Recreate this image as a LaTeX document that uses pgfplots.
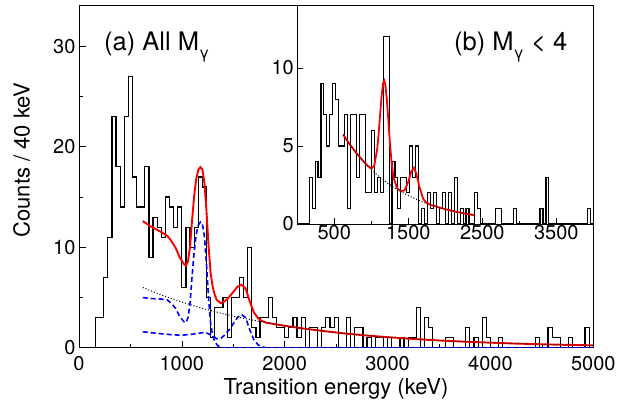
\documentclass[border=0pt]{standalone}
\usepackage{fontspec}
\setmainfont{TeX Gyre Heros}
\usepackage{pgfplots}
\pgfplotsset{compat=1.18}
\newcommand{\sg}{\raisebox{-8.5bp}{\fontsize{16bp}{16bp}\selectfont γ}}
\begin{document}
\begin{tikzpicture}[x=1bp,y=1bp]
\pgfplotsset{
  myaxis/.style={
    scale only axis,
    tick align=inside, xtick pos=bottom, ytick pos=left,
    tick style={black, line width=0.7bp},
    axis line style={line width=1bp},
    /pgf/number format/assume math mode=true,
    /pgf/number format/1000 sep={},
    tick label style={font=\fontsize{20bp}{20bp}\selectfont},
    clip=true,
  }
}
% ---------------- main panel ----------------
\begin{axis}[myaxis,
  at={(79bp,60.2bp)}, anchor=south west,
  width=514.3bp, height=341.8bp,
  xmin=0, xmax=5000, ymin=0, ymax=34,
  xtick={0,1000,2000,3000,4000,5000}, minor xtick={500,1500,2500,3500,4500},
  ytick={0,10,20,30}, minor ytick={5,15,25},
  major tick length=7bp, minor tick length=3.5bp,
  xticklabel style={yshift=-5bp},
]
\addplot[const plot, black, line width=1.2bp] coordinates {
(0,0) (160,3) (200,3) (240,7) (280,11) (320,23) (360,18) (400,14) (440,23) (480,27)
(520,17) (560,14) (600,14) (640,18) (680,9) (720,13) (760,12) (800,11) (840,15) (880,14)
(920,12) (960,14) (1000,6) (1040,12) (1080,10) (1120,12) (1160,17) (1200,16) (1240,5) (1280,1)
(1320,4) (1360,4) (1400,5) (1440,1) (1480,5) (1520,5) (1560,7) (1600,5) (1640,10) (1680,2)
(1720,1) (1760,3) (1800,3) (1840,5) (1880,3) (1920,2) (1960,2) (2000,1) (2040,2) (2080,3)
(2120,1) (2160,3) (2200,0) (2240,2) (2280,2) (2320,0) (2360,2) (2400,3) (2440,2) (2480,3)
(2520,0) (2560,0) (2600,3) (2640,0) (2680,2) (2720,2) (2760,0) (2800,1) (2840,0) (2880,1)
(2920,1) (2960,0) (3000,1) (3040,0) (3080,0) (3120,1) (3160,0) (3200,1) (3240,1) (3280,4)
(3320,0) (3360,3) (3400,2) (3440,0) (3480,0) (3520,0) (3560,1) (3600,1) (3640,0) (3680,0)
(3720,0) (3760,2) (3800,0) (3840,1) (3880,0) (3920,3) (3960,1) (4000,0) (4040,0) (4080,1)
(4120,0) (4160,0) (4200,0) (4240,0) (4280,0) (4320,0) (4360,0) (4400,0) (4440,1) (4480,0)
(4520,0) (4560,2) (4600,1) (4640,1) (4680,0) (4720,0) (4760,1) (4800,0) (4840,0) (4880,0)
(4920,2) (4960,0) (5000,0)};
% blue dashed components
\addplot[blue, line width=1.6bp, dash pattern=on 5bp off 3bp] coordinates {
(620,5.0) (700,4.9) (800,4.85) (860,4.75) (900,4.4) (940,3.9) (980,3.1) (1020,2.6) (1040,2.5)
(1060,3.0) (1080,4.5) (1100,7.2) (1120,9.6) (1140,11.3) (1160,12.2) (1180,12.5) (1200,12.3)
(1220,11.0) (1240,8.2) (1260,4.9) (1280,2.4) (1300,1.2) (1320,0.6) (1350,0.2) (1380,0.05)
(1400,0) (5000,0)};
\addplot[blue, line width=1.6bp, dash pattern=on 5bp off 3bp] coordinates {
(620,1.6) (700,1.5) (800,1.4) (900,1.3) (1000,1.25) (1100,1.35) (1200,1.5) (1240,1.47)
(1280,1.3) (1320,1.05) (1340,0.9) (1380,0.95) (1420,1.3) (1460,1.8) (1500,2.4) (1540,3.0)
(1580,3.3) (1620,3.0) (1660,1.8) (1700,0.8) (1740,0.3) (1780,0.1) (1820,0) (5000,0)};
% red total fit
\addplot[red, line width=1.9bp] coordinates {
(620,12.6) (700,12.06) (800,11.51) (860,11.13) (900,10.59) (940,9.93) (980,8.97) (1020,8.33)
(1040,8.17) (1060,8.63) (1080,10.09) (1100,12.78) (1120,15.14) (1140,16.82) (1160,17.69)
(1180,17.97) (1200,17.73) (1220,16.37) (1240,13.48) (1260,10.06) (1280,7.41) (1300,6.05)
(1320,5.25) (1340,4.75) (1380,4.44) (1420,4.65) (1460,5.05) (1500,5.56) (1540,6.07)
(1580,6.28) (1620,5.89) (1660,4.61) (1700,3.53) (1740,2.95) (1780,2.67) (1820,2.50)
(1900,2.36) (2000,2.19) (2200,1.89) (2400,1.64) (2600,1.41) (2800,1.22) (3000,1.06)
(3250,0.88) (3500,0.73) (3750,0.61) (4000,0.51) (4250,0.42) (4500,0.35) (4750,0.29) (5000,0.245)};
% background (dotted)
\addplot[black, line width=1bp, dash pattern=on 1bp off 2bp] coordinates {
(620,6.00) (800,5.26) (1000,4.55) (1200,3.93) (1400,3.39) (1600,2.93) (1800,2.53) (2000,2.19)
(2200,1.89) (2400,1.64) (2600,1.41) (2800,1.22) (3000,1.06) (3250,0.88) (3500,0.73)
(3750,0.61) (4000,0.51) (4250,0.42) (4500,0.35) (4750,0.29) (5000,0.245)};
\end{axis}
% ---------------- inset ----------------
\begin{axis}[myaxis,
  at={(297.3bp,184bp)}, anchor=south west,
  width=296bp, height=218.5bp,
  axis background/.style={fill=white},
  xmin=0, xmax=4000, ymin=0, ymax=14,
  xtick={500,1500,2500,3500}, minor xtick={1000,2000,3000},
  ytick={0,5,10},
  major tick length=6bp, minor tick length=3bp,
  xticklabel style={yshift=2bp},
]
\addplot[const plot, black, line width=1.1bp] coordinates {
(0,0) (160,3) (200,1) (240,4) (280,3) (320,9) (360,7) (400,5) (440,7) (480,9)
(520,8) (560,5) (600,5) (640,7) (680,1) (720,7) (760,7) (800,3) (840,7) (880,7)
(920,2) (960,2) (1000,6) (1040,2) (1080,3) (1120,2) (1160,12) (1200,12) (1240,0) (1280,4)
(1320,3) (1360,1) (1400,3) (1440,3) (1480,2) (1520,5) (1560,3) (1600,5) (1640,0) (1680,1)
(1720,0) (1760,2) (1800,1) (1840,2) (1880,0) (1920,1) (1960,2) (2000,0) (2040,2) (2080,0)
(2120,3) (2160,0) (2200,1) (2240,0) (2280,1) (2320,0) (2360,0) (2400,2) (2440,1) (2480,0)
(2520,0) (2560,0) (2600,0) (2640,0) (2680,1) (2720,1) (2760,0) (2800,0) (2840,0) (2880,0)
(2920,1) (2960,0) (3000,0) (3040,0) (3080,0) (3120,0) (3160,0) (3200,0) (3240,0) (3280,1)
(3320,0) (3360,3) (3400,0) (3440,0) (3480,0) (3520,0) (3560,0) (3600,0) (3640,0) (3680,0)
(3720,0) (3760,0) (3800,0) (3840,0) (3880,0) (3920,1) (3960,0) (4000,0)};
\addplot[red, line width=1.8bp] coordinates {
(620,5.73) (700,5.16) (800,4.53) (900,3.98) (950,3.73) (1000,3.56) (1040,3.74) (1080,4.81)
(1100,5.83) (1120,7.06) (1140,8.24) (1160,9.02) (1175,9.18) (1190,8.91) (1210,7.98)
(1230,6.67) (1250,5.29) (1275,3.89) (1300,2.99) (1350,2.28) (1400,2.10) (1450,2.16)
(1500,2.71) (1540,3.36) (1575,3.60) (1610,3.21) (1650,2.38) (1700,1.62) (1750,1.34)
(1800,1.23) (1900,1.08) (2000,0.95) (2100,0.83) (2200,0.73) (2300,0.64) (2400,0.56)};
\addplot[black, line width=1bp, dash pattern=on 1bp off 2bp] coordinates {
(620,5.73) (700,5.16) (800,4.53) (900,3.98) (1000,3.49) (1100,3.06) (1200,2.69) (1300,2.36)
(1400,2.07) (1500,1.82) (1600,1.60) (1700,1.40) (1800,1.23) (1900,1.08) (2000,0.95)
(2100,0.83) (2200,0.73) (2300,0.64) (2400,0.56)};
\end{axis}
% ---------------- texts ----------------
\node[rotate=90, font=\fontsize{22bp}{22bp}\selectfont] at (21.7,248) {Counts / 40 keV};
\node[anchor=base, font=\fontsize{22bp}{22bp}\selectfont] at (336,14) {Transition energy (keV)};
\node[anchor=base west, inner sep=0pt, font=\fontsize{25.5bp}{25.5bp}\selectfont] at (104,358) {(a) All M\sg};
\node[anchor=base west, inner sep=0pt, font=\fontsize{25.5bp}{25.5bp}\selectfont] at (454,358) {(b) M\sg\ {<} 4};
\pgfresetboundingbox
\path[use as bounding box] (0,0) rectangle (621,408);
\end{tikzpicture}
\end{document}
